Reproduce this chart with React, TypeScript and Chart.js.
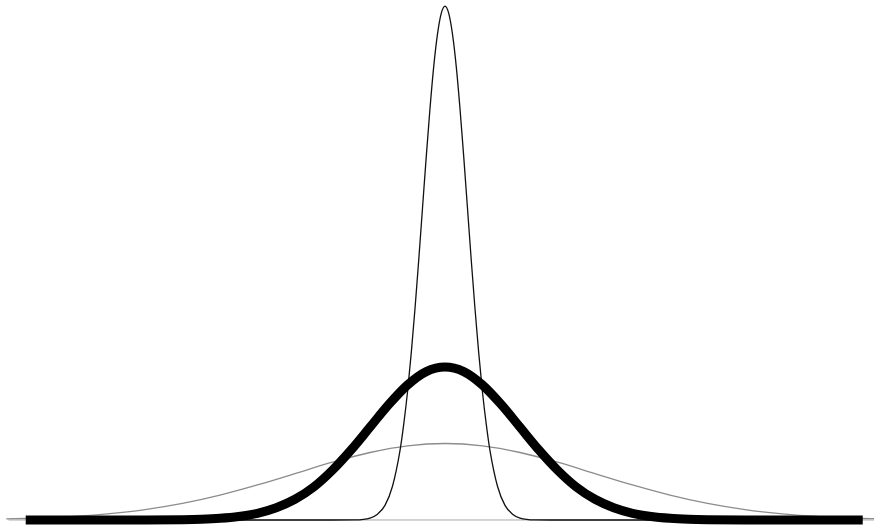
import React, { useEffect, useRef } from "react";
import { Chart, registerables } from "chart.js";

Chart.register(...registerables);

// Thick curve (standard width)
const thickX = [-5.59, -4.5, -4, -3.5, -3.25, -3, -2.75, -2.5, -2.25, -2, -1.75, -1.5, -1.25, -1, -0.75, -0.5, -0.25, 0, 0.25, 0.5, 0.75, 1, 1.25, 1.5, 1.75, 2, 2.25, 2.5, 2.75, 3, 3.25, 3.5, 4, 4.5, 5.57];
const thickY = [0, 0, 0.0001, 0.0009, 0.002, 0.0044, 0.0091, 0.0175, 0.032, 0.054, 0.086, 0.13, 0.183, 0.242, 0.301, 0.352, 0.387, 0.399, 0.387, 0.352, 0.301, 0.242, 0.183, 0.13, 0.086, 0.054, 0.032, 0.0175, 0.0091, 0.0044, 0.002, 0.0009, 0.0001, 0, 0];

// Wide grey curve
const wideX = [-5.85, -5.5, -5, -4.5, -4, -3.5, -3, -2.5, -2, -1.5, -1, -0.5, 0, 0.5, 1, 1.5, 2, 2.5, 3, 3.5, 4, 4.5, 5, 5.5, 5.75];
const wideY = [0.0028, 0.0045, 0.0088, 0.0159, 0.027, 0.0431, 0.0648, 0.0913, 0.121, 0.1506, 0.176, 0.1933, 0.1995, 0.1933, 0.176, 0.1506, 0.121, 0.0913, 0.0648, 0.0431, 0.027, 0.0159, 0.0088, 0.0045, 0.0034];

// Narrow peaked curve
const narrowX = [-5.5, -1.5, -1.2, -1, -0.9, -0.8, -0.7, -0.6, -0.55, -0.5, -0.45, -0.4, -0.35, -0.3, -0.25, -0.2, -0.15, -0.1, -0.05, 0, 0.05, 0.1, 0.15, 0.2, 0.25, 0.3, 0.35, 0.4, 0.45, 0.5, 0.55, 0.6, 0.7, 0.8, 0.9, 1, 1.2, 1.5, 5.5];
const narrowY = [0, 0, 0.0002, 0.005, 0.015, 0.038, 0.088, 0.181, 0.25, 0.333, 0.435, 0.551, 0.678, 0.813, 0.947, 1.073, 1.183, 1.267, 1.321, 1.34, 1.321, 1.267, 1.183, 1.073, 0.947, 0.813, 0.678, 0.551, 0.435, 0.333, 0.25, 0.181, 0.088, 0.038, 0.015, 0.005, 0.0002, 0, 0];

// Baseline
const baseX = [-5.82, 5.75];
const baseY = [0, 0];

const pts = (xs: number[], ys: number[]) => xs.map((x, i) => ({ x, y: ys[i] }));

export default function App() {
  const ref = useRef<HTMLCanvasElement | null>(null);
  useEffect(() => {
    document.body.style.margin = "0";
    const ctx = ref.current!;
    const common = { pointRadius: 0, fill: false, cubicInterpolationMode: "monotone" as const, clip: false as const };
    const chart = new Chart(ctx, {
      type: "line",
      data: {
        datasets: [
          { ...common, data: pts(baseX, baseY), borderColor: "#a8a8a8", borderWidth: 1, order: 4, cubicInterpolationMode: "default" },
          { ...common, data: pts(wideX, wideY), borderColor: "#8c8c8c", borderWidth: 1.3, order: 3 },
          { ...common, data: pts(narrowX, narrowY), borderColor: "#111111", borderWidth: 1.3, order: 2 },
          { ...common, data: pts(thickX, thickY), borderColor: "#000000", borderWidth: 9, order: 1, borderCapStyle: "butt" },
        ],
      },
      options: {
        animation: false,
        responsive: false,
        layout: { padding: 0 },
        plugins: { legend: { display: false }, tooltip: { enabled: false } },
        scales: {
          x: { type: "linear", display: false, min: -5.933, max: 5.72 },
          y: { type: "linear", display: false, min: -0.0183, max: 1.356 },
        },
      },
    });
    return () => chart.destroy();
  }, []);
  return (
    <div style={{ position: "fixed", left: 0, top: 0, width: 874, height: 527, background: "#fff" }}>
      <canvas ref={ref} width={874} height={527} style={{ display: "block" }} />
    </div>
  );
}
